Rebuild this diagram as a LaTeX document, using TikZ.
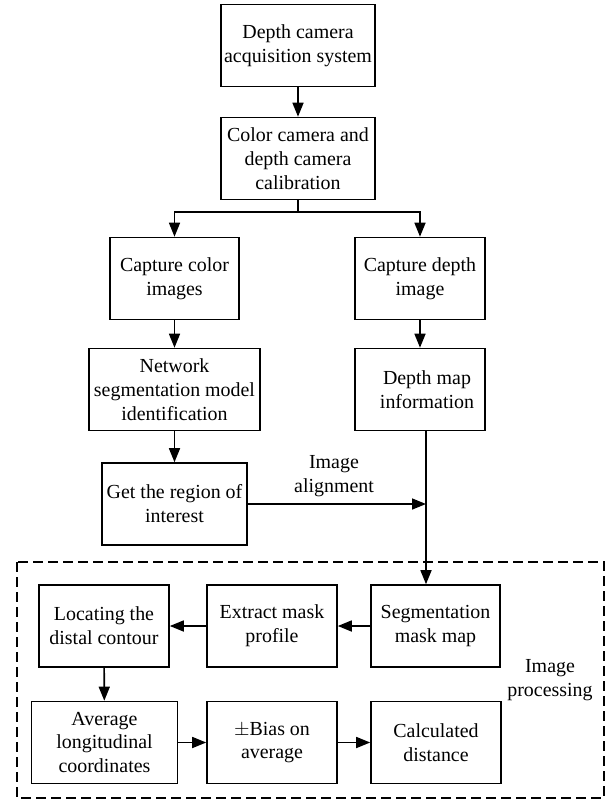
\documentclass[tikz,border=0pt]{standalone}
\usepackage{fontspec}
\setmainfont{Liberation Serif}
\usetikzlibrary{arrows.meta}

\tikzset{
  blk/.style={draw, line width=0.8pt, align=center, minimum height=41bp, inner sep=0pt,
    font=\fontsize{10}{12}\selectfont},
  lbl/.style={align=center, inner sep=0pt, font=\fontsize{10}{12}\selectfont},
  arr/.style={-{Triangle[length=7bp,width=5.5bp]}, line width=0.8pt},
}

\begin{document}
\begin{tikzpicture}[x=0.5bp,y=-0.5bp]
    \useasboundingbox (0,0) rectangle (606,800);

    % upper chain
    \node[blk, minimum width=77bp] (acq) at (298,45.5) {Depth camera\\acquisition system};
    \node[blk, minimum width=77bp] (cal) at (298,158.5) {Color camera and\\depth camera\\calibration};
    \node[blk, minimum width=64.5bp] (col) at (174.5,278.5) {Capture color\\images};
    \node[blk, minimum width=65bp] (dep) at (420,278.5) {Capture depth\\image};
    \node[blk, minimum width=85.5bp] (net) at (174.5,389.5) {Network\\segmentation model\\identification};
    \node[blk, minimum width=65bp] (dmap) at (420,389.5) {\hspace{7bp}Depth map\\\hspace{7bp}information};
    \node[blk, minimum width=72.5bp] (roi) at (174.5,504) {Get the region of\\interest};
    \node[lbl] (align) at (334,476) {Image\\alignment};

    \coordinate (br) at (298,212);
    \coordinate (dmb) at (426,431);

    \draw[arr] (acq) -- (cal);
    \draw[line width=0.8pt] (cal) -- (br);
    \draw[arr] (br) -| (col);
    \draw[arr] (br) -| (dep);
    \draw[arr] (col) -- (net);
    \draw[arr] (dep) -- (dmap);
    \draw[arr] (net) -- (roi);
    \draw[arr] (roi) -- (roi -| dmb);

    % image processing
    \draw[dash pattern=on 5bp off 2.5bp, line width=0.8pt] (17,562) rectangle (604,798);
    \node[lbl] (proc) at (550,680) {Image\\processing};

    \node[blk, minimum width=65bp] (loc) at (104,626) {Locating the\\distal contour};
    \node[blk, minimum width=65bp] (ext) at (272,626) {Extract mask\\profile};
    \node[blk, minimum width=64.5bp] (seg) at (435.5,626) {Segmentation\\mask map};
    \node[blk, minimum width=73bp] (avg) at (104.5,742.5) {Average\\longitudinal\\coordinates};
    \node[blk, minimum width=65bp] (bias) at (272,742.5) {$\pm$Bias on\\average};
    \node[blk, minimum width=65bp] (calc) at (436,742.5) {Calculated\\distance};

    \draw[arr] (dmb) -- (dmb |- seg.north);
    \draw[arr] (seg) -- (ext);
    \draw[arr] (ext) -- (loc);
    \draw[arr] (loc) -- (avg);
    \draw[arr] (avg) -- (bias);
    \draw[arr] (bias) -- (calc);
\end{tikzpicture}
\end{document}
